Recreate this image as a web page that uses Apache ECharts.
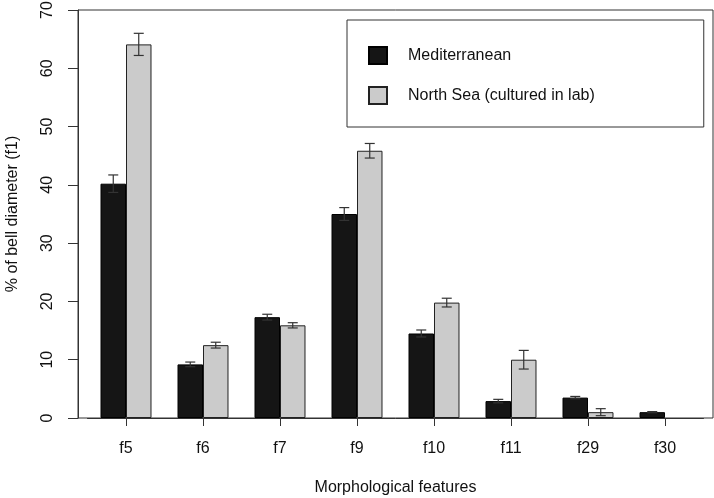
<!DOCTYPE html>
<html>
<head>
<meta charset="utf-8">
<script src="https://cdn.jsdelivr.net/npm/echarts@6/dist/echarts.min.js"></script>
<style>html,body{margin:0;padding:0;background:#fff}#c{width:714px;height:498px}</style>
</head>
<body>
<div id="c"></div>
<script>
var categories = ['f5','f6','f7','f9','f10','f11','f29','f30'];
var medMean = [40.2, 9.2, 17.3, 35.0, 14.5, 2.9, 3.5, 1.0];
var medErr  = [1.5, 0.4, 0.5, 1.1, 0.6, 0.3, 0.2, 0.1];
var nsMean  = [64.1, 12.5, 15.9, 45.85, 19.8, 10.0, 1.0, null];
var nsErr   = [1.9, 0.5, 0.45, 1.25, 0.75, 1.6, 0.6, null];
var yTicks  = [0, 10, 20, 30, 40, 50, 60, 70];
var seriesNames = ['Mediterranean', 'North Sea (cultured in lab)'];

var FONT = '"Liberation Sans", Arial, Helvetica, sans-serif';
var GAP = 0.338;

function errData(mean, err) {
  var out = [];
  for (var i = 0; i < mean.length; i++) {
    if (mean[i] == null || err[i] == null) continue;
    out.push([i, mean[i] - err[i], mean[i] + err[i]]);
  }
  return out;
}
function errSeries(data, side) {
  return {
    type: 'custom', xAxisIndex: 0, yAxisIndex: 0, z: 5,
    silent: true,
    data: data,
    encode: {x: 0, y: [1, 2]},
    renderItem: function (params, api) {
      var i = api.value(0);
      var lo = api.coord([i, api.value(1)]);
      var hi = api.coord([i, api.value(2)]);
      var band = api.size([1, 0])[0];
      var off = band * (1 - GAP) / 4 * side;
      var x = lo[0] + off;
      var cap = 5;
      var st = {stroke: '#333', lineWidth: 1.2};
      return {
        type: 'group',
        children: [
          {type: 'line', shape: {x1: x, y1: lo[1], x2: x, y2: hi[1]}, style: st},
          {type: 'line', shape: {x1: x - cap, y1: lo[1], x2: x + cap, y2: lo[1]}, style: st},
          {type: 'line', shape: {x1: x - cap, y1: hi[1], x2: x + cap, y2: hi[1]}, style: st}
        ]
      };
    }
  };
}

var chart = echarts.init(document.getElementById('c'));
chart.setOption({
  animation: false,
  backgroundColor: '#fff',
  textStyle: {fontFamily: FONT},
  grid: [
    {left: 87.5, top: 10, width: 616, height: 408, containLabel: false, outerBoundsMode: 'none'},
    {left: 78, top: 10, width: 635, height: 408, containLabel: false, outerBoundsMode: 'none',
     show: true, borderColor: '#333', borderWidth: 1, backgroundColor: 'transparent'}
  ],
  legend: {
    orient: 'vertical',
    left: 347, top: 20,
    padding: [26, 109, 22, 21],
    itemWidth: 18, itemHeight: 17, itemGap: 21,
    borderColor: '#333', borderWidth: 1,
    icon: 'rect',
    textStyle: {fontSize: 16, color: '#111', fontFamily: FONT, padding: [0, 0, 0, 16]},
    data: seriesNames
  },
  xAxis: [
    {
      type: 'category', gridIndex: 0, data: categories,
      axisLine: {show: true, lineStyle: {color: '#333'}},
      axisTick: {show: true, alignWithLabel: true, length: 8, lineStyle: {color: '#333'}},
      axisLabel: {fontSize: 16, color: '#111', margin: 23, fontFamily: FONT},
      name: 'Morphological features', nameLocation: 'middle', nameGap: 62,
      nameTextStyle: {fontSize: 16, color: '#111', fontFamily: FONT}
    },
    {type: 'value', gridIndex: 1, show: false, min: 0, max: 1}
  ],
  yAxis: [
    {
      type: 'value', gridIndex: 0, min: 0, max: 70, interval: 10, offset: 9.5,
      axisLine: {show: true, lineStyle: {color: '#333'}},
      axisTick: {show: true, length: 10, lineStyle: {color: '#333'}},
      splitLine: {show: false},
      axisLabel: {fontSize: 16, color: '#111', rotate: 90, margin: 22, fontFamily: FONT,
        formatter: function (v) { return yTicks.indexOf(v) >= 0 ? String(v) : ''; }},
      name: '% of bell diameter (f1)', nameLocation: 'middle', nameGap: 57, nameRotate: 90,
      nameTextStyle: {fontSize: 16, color: '#111', fontFamily: FONT}
    },
    {type: 'value', gridIndex: 1, show: false, min: 0, max: 1}
  ],
  series: [
    {
      name: seriesNames[0], type: 'bar', xAxisIndex: 0, yAxisIndex: 0,
      data: medMean, barGap: '0%', barCategoryGap: (GAP * 100) + '%',
      itemStyle: {color: '#151515', borderColor: '#000', borderWidth: 1}
    },
    {
      name: seriesNames[1], type: 'bar', xAxisIndex: 0, yAxisIndex: 0,
      data: nsMean, barGap: '0%', barCategoryGap: (GAP * 100) + '%',
      itemStyle: {color: '#cbcbcb', borderColor: '#222', borderWidth: 1}
    },
    errSeries(errData(medMean, medErr), -1),
    errSeries(errData(nsMean, nsErr), 1)
  ]
});
</script>
</body>
</html>
